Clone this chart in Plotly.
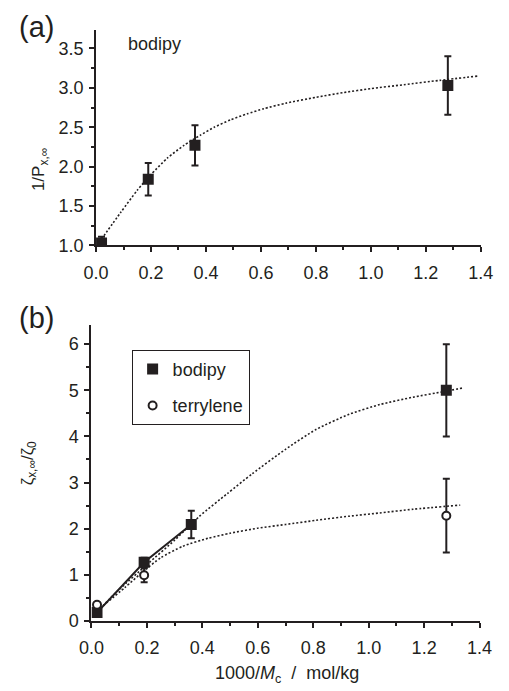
import plotly.graph_objects as go

# ---------------- data ----------------
# panel (a): bodipy, 1/P_x,inf
a_x = [0.02, 0.19, 0.36, 1.28]
a_y = [1.03, 1.84, 2.27, 3.03]
a_err = [0.08, 0.205, 0.255, 0.37]
a_fit_x = [0.02, 0.09, 0.15, 0.20, 0.26, 0.32, 0.38, 0.43, 0.49, 0.55, 0.61, 0.69, 0.80, 0.90, 1.00, 1.12, 1.25, 1.39]
a_fit_y = [1.08, 1.42, 1.70, 1.90, 2.11, 2.27, 2.40, 2.50, 2.595, 2.67, 2.735, 2.805, 2.88, 2.94, 2.99, 3.04, 3.095, 3.15]

# panel (b): zeta ratio
b_bod_x = [0.02, 0.19, 0.36, 1.28]
b_bod_y = [0.18, 1.27, 2.09, 5.0]
b_bod_err = [0.08, 0.10, 0.30, 1.0]
b_ter_x = [0.02, 0.19, 1.28]
b_ter_y = [0.35, 0.99, 2.28]
b_ter_err = [0.05, 0.15, 0.80]
b_bod_fit_x = [0.02, 0.10, 0.20, 0.30, 0.39, 0.49, 0.58, 0.70, 0.81, 0.93, 1.04, 1.16, 1.27, 1.34]
b_bod_fit_y = [0.20, 0.68, 1.22, 1.75, 2.27, 2.76, 3.19, 3.72, 4.15, 4.48, 4.69, 4.85, 4.97, 5.05]
b_ter_fit_x = [0.02, 0.12, 0.19, 0.25, 0.33, 0.42, 0.50, 0.60, 0.70, 0.81, 0.93, 1.04, 1.16, 1.33]
b_ter_fit_y = [0.22, 0.72, 1.09, 1.37, 1.62, 1.79, 1.90, 2.01, 2.09, 2.18, 2.27, 2.34, 2.42, 2.51]

x_ticks = [0.0, 0.2, 0.4, 0.6, 0.8, 1.0, 1.2, 1.4]
x_ticklabels = ["0.0", "0.2", "0.4", "0.6", "0.8", "1.0", "1.2", "1.4"]
a_yticks = [1.0, 1.5, 2.0, 2.5, 3.0, 3.5]
a_yticklabels = ["1.0", "1.5", "2.0", "2.5", "3.0", "3.5"]
b_yticks = [0, 1, 2, 3, 4, 5, 6]
b_yticklabels = ["0", "1", "2", "3", "4", "5", "6"]

INK = "#231f20"
FONT = "Liberation Sans, Arial, sans-serif"
W, H = 509, 691

fig = go.Figure()
DOT = dict(color=INK, width=1.6, dash="2px,2px", shape="spline", smoothing=0.6)

# ---- panel (a) ----
fig.add_trace(go.Scatter(x=a_fit_x, y=a_fit_y, mode="lines", line=DOT,
                         xaxis="x", yaxis="y", showlegend=False, hoverinfo="skip"))
fig.add_trace(go.Scatter(x=a_x, y=a_y, mode="markers",
                         marker=dict(symbol="square", size=11, color=INK),
                         error_y=dict(type="data", array=a_err, color=INK, thickness=2, width=3.5),
                         xaxis="x", yaxis="y", showlegend=False))

# ---- panel (b) ----
fig.add_trace(go.Scatter(x=b_bod_fit_x, y=b_bod_fit_y, mode="lines", line=DOT,
                         xaxis="x2", yaxis="y2", showlegend=False, hoverinfo="skip"))
fig.add_trace(go.Scatter(x=b_ter_fit_x, y=b_ter_fit_y, mode="lines", line=DOT,
                         xaxis="x2", yaxis="y2", showlegend=False, hoverinfo="skip"))
fig.add_trace(go.Scatter(x=b_bod_x[:3], y=b_bod_y[:3], mode="lines", line=dict(color=INK, width=2),
                         xaxis="x2", yaxis="y2", showlegend=False, hoverinfo="skip"))
fig.add_trace(go.Scatter(x=b_bod_x, y=b_bod_y, mode="markers", name="bodipy",
                         marker=dict(symbol="square", size=11, color=INK),
                         error_y=dict(type="data", array=b_bod_err, color=INK, thickness=2, width=3.5),
                         xaxis="x2", yaxis="y2", showlegend=True, legendgroup="g1"))
fig.add_trace(go.Scatter(x=b_ter_x, y=b_ter_y, mode="markers", name="terrylene",
                         marker=dict(symbol="circle", size=8, color="white", line=dict(color=INK, width=2)),
                         error_y=dict(type="data", array=b_ter_err, color=INK, thickness=2, width=3.5),
                         xaxis="x2", yaxis="y2", showlegend=True, legendgroup="g2"))

def xax(domain, anchor):
    return dict(domain=domain, anchor=anchor, range=[0, 1.4], tickvals=x_ticks, ticktext=x_ticklabels,
                showline=True, linecolor=INK, linewidth=2, ticks="outside", ticklen=5, tickwidth=1.5, tickcolor=INK,
                minor=dict(dtick=0.1, tick0=0, ticks="outside", ticklen=3, tickwidth=1.5, tickcolor=INK),
                showgrid=False, zeroline=False, tickfont=dict(family=FONT, size=18, color=INK),
                ticklabelstandoff=5, fixedrange=True)

def yax(domain, anchor, rng, tv, tt, mdt):
    return dict(domain=domain, anchor=anchor, range=rng, tickvals=tv, ticktext=tt,
                showline=True, linecolor=INK, linewidth=2, ticks="outside", ticklen=5, tickwidth=1.5, tickcolor=INK,
                minor=dict(dtick=mdt, tick0=0, ticks="outside", ticklen=3, tickwidth=1.5, tickcolor=INK),
                showgrid=False, zeroline=False, tickfont=dict(family=FONT, size=18, color=INK),
                ticklabelstandoff=2, fixedrange=True)

fig.update_layout(
    width=W, height=H, margin=dict(l=0, r=0, t=0, b=0),
    paper_bgcolor="white", plot_bgcolor="white",
    xaxis=xax([87.5 / W, 493 / W], "y"),
    yaxis=yax([1 - 249 / H, 1 - 30 / H], "x", [1.0, 3.74], a_yticks, a_yticklabels, 0.25),
    xaxis2=xax([82.7 / W, 491.7 / W], "y2"),
    yaxis2=yax([1 - 630 / H, 1 - 330 / H], "x2", [0, 6.41], b_yticks, b_yticklabels, 0.5),
    legend=dict(x=125 / W, y=1 - 355 / H, xanchor="left", yanchor="top",
                bordercolor=INK, borderwidth=1, bgcolor="white",
                font=dict(family=FONT, size=18, color=INK),
                traceorder="grouped", tracegroupgap=10),
    showlegend=True,
)

ann = [
    dict(text="(a)", x=25 / W, y=1 - 27 / H, font=dict(size=29)),
    dict(text="(b)", x=25 / W, y=1 - 323 / H, font=dict(size=29)),
    dict(text="bodipy", x=149 / W, y=1 - 45 / H, font=dict(size=18)),
    dict(text="1/P<sub>x,∞</sub>", x=28 / W, y=1 - 172 / H, font=dict(size=17), textangle=-90),
    dict(text="ζ<sub>x,∞</sub>/ζ<sub>0</sub>", x=17 / W, y=1 - 470 / H, font=dict(size=17), textangle=-90),
    dict(text="1000/<i>M</i><sub>c</sub>  /  mol/kg", x=289 / W, y=1 - 680 / H, yshift=-4, font=dict(size=18)),
]
for a in ann:
    a.update(xref="paper", yref="paper", showarrow=False, xanchor="center")
    a.setdefault("yanchor", "middle")
    a["font"].update(family=FONT, color=INK)
fig.update_layout(annotations=ann)

fig.write_html("out.html")
